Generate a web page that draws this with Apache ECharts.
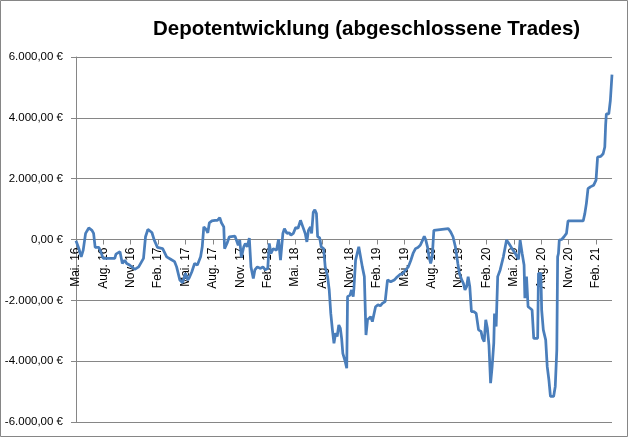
<!DOCTYPE html>
<html>
<head>
<meta charset="utf-8">
<script src="https://cdn.jsdelivr.net/npm/echarts@6/dist/echarts.min.js"></script>
<style>
html,body{margin:0;padding:0;background:#fff;}
#chart{width:628px;height:437px;}
</style>
</head>
<body>
<div id="chart"></div>
<script>
// Months since May 2016 (decimal) and depot value in EUR
const months = [0,0.18,0.35,0.57,0.79,1.05,1.40,1.75,1.93,2.10,2.50,2.71,2.98,4.25,4.38,4.82,4.99,5.08,5.34,5.56,5.87,6.44,6.87,7.40,7.62,7.88,8.32,8.58,8.93,9.50,9.94,10.38,10.81,11.03,11.38,11.69,12.00,12.26,12.43,12.70,13.00,13.31,13.66,13.84,14.01,14.27,14.45,14.62,14.89,15.24,15.50,15.76,15.94,16.20,16.29,16.55,16.81,17.43,17.60,17.78,17.95,18.13,18.39,18.56,18.78,19.00,19.18,19.44,19.61,19.88,20.23,20.49,20.75,21.02,21.19,21.37,21.63,21.98,22.20,22.42,22.59,22.68,22.85,23.12,23.38,23.56,23.82,24.08,24.34,24.61,24.87,25.13,25.31,25.48,25.70,25.83,26.01,26.18,26.36,26.49,26.71,26.88,27.15,27.32,27.58,27.76,27.93,28.11,28.28,28.46,28.63,28.81,28.98,29.12,29.25,29.51,29.68,29.77,30.04,30.21,30.39,30.47,30.65,31.00,31.17,31.39,31.61,31.79,31.96,32.14,32.31,32.49,32.66,32.84,33.10,33.36,33.58,33.89,34.06,34.15,34.33,34.50,34.68,34.89,35.11,35.33,35.55,35.77,35.99,36.43,36.69,36.95,37.22,37.48,37.74,38.00,38.18,38.35,38.53,38.70,38.88,39.05,39.23,39.40,40.81,41.07,41.33,41.59,41.86,42.03,42.29,42.47,42.64,42.82,42.99,43.17,43.35,43.61,43.87,44.13,44.40,44.57,44.75,44.92,45.10,45.27,45.45,45.62,45.80,45.88,46.06,46.23,46.50,46.85,47.20,47.46,47.81,48.16,48.51,48.69,48.91,49.12,49.21,49.39,49.56,49.78,50.00,50.18,50.61,50.70,50.96,51.05,51.23,51.49,51.66,51.84,52.01,52.36,52.54,52.71,52.80,52.89,52.98,53.24,53.50,53.77,53.94,55.60,55.78,55.95,56.13,56.39,56.74,57.01,57.18,57.53,57.79,57.97,58.06,58.14,58.41,58.58,58.76];
const values = [-40,-190,-330,-570,-350,200,380,300,200,-260,-260,-400,-620,-620,-480,-400,-350,-790,-680,-790,-840,-980,-900,-620,90,330,230,-20,-260,-300,-570,-650,-730,-900,-1330,-1420,-1110,-1330,-1250,-1060,-790,-840,-570,-240,415,330,220,550,610,630,630,720,550,415,-300,-130,90,110,60,-190,-20,-590,-240,-130,-240,50,-900,-1280,-1000,-900,-950,-900,-1000,-950,-130,-460,-300,-350,0,-680,-730,200,360,200,220,140,200,390,370,630,415,200,-80,300,415,200,900,980,850,90,60,-240,-300,-900,-1220,-1660,-2430,-2970,-3410,-3080,-3190,-2810,-2920,-3250,-3740,-4010,-4230,-1880,-1830,-1660,-1880,-1600,-680,-240,-190,-900,-1220,-3140,-2640,-2700,-2540,-2700,-2700,-2210,-2150,-2180,-2100,-2040,-1990,-1330,-1380,-1390,-1440,-1330,-1260,-1200,-1140,-1140,-1060,-900,-700,-460,-300,-260,-190,-20,110,-20,-240,-570,-790,-570,300,360,360,250,90,-240,-790,-1110,-1330,-1440,-1660,-1550,-1220,-1550,-2370,-2370,-2430,-2970,-3020,-3250,-3360,-2640,-2920,-3470,-4720,-4180,-3410,-2430,-2860,-1220,-1000,-570,-20,-130,-300,-460,-650,-20,-460,-840,-1930,-1220,-2210,-2260,-2320,-3250,-3250,-1110,-1110,-2320,-2970,-3300,-4180,-4610,-5160,-5160,-4830,-3630,-570,-460,-20,0,90,200,610,610,850,1180,1670,1730,1780,1950,2710,2730,2820,3040,3750,4130,4130,4570,5420];
const tickMonths = [0,3,6,9,12,15,18,21,24,27,30,33,36,39,42,45,48,51,54,57];
const tickLabels = ['Mai. 16','Aug. 16','Nov. 16','Feb. 17','Mai. 17','Aug. 17','Nov. 17','Feb. 18','Mai. 18','Aug. 18','Nov. 18','Feb. 19','Mai. 19','Aug. 19','Nov. 19','Feb. 20','Mai. 20','Aug. 20','Nov. 20','Feb. 21'];
const titleText = 'Depotentwicklung (abgeschlossene Trades)';

function euro(v){
  const neg = v < 0;
  const a = Math.abs(v).toFixed(2).split('.');
  const intPart = a[0].replace(/\B(?=(\d{3})+(?!\d))/g, '.');
  return (neg ? '-' : '') + intPart + ',' + a[1] + ' €';
}

const gridTop = 57, gridBottom = 15, chartH = 437;
const plotH = chartH - gridTop - gridBottom;

const chart = echarts.init(document.getElementById('chart'), null, {renderer:'canvas'});
chart.setOption({
  animation:false,
  backgroundColor:'#fff',
  textStyle:{fontFamily:'Liberation Sans'},
  title:{
    text:titleText,
    left:148, top:14,
    textStyle:{fontFamily:'Liberation Sans', fontWeight:'bold', fontSize:20.5, color:'#000'}
  },
  graphic:[{type:'rect', shape:{x:0.5,y:0.5,width:627,height:436}, style:{fill:null, stroke:'#868686', lineWidth:1}, silent:true}],
  grid:{left:76, right:16, top:gridTop, bottom:gridBottom, outerBoundsMode:'none', containLabel:false},
  xAxis:{
    type:'value', min:0, max:58.76, position:'bottom', offset:-plotH/2,
    axisLine:{onZero:false, lineStyle:{color:'#868686', width:1}},
    axisTick:{show:true, length:5, customValues:tickMonths, lineStyle:{color:'#868686'}},
    axisLabel:{
      customValues:tickMonths, rotate:90, margin:8, color:'#000', fontSize:12, fontFamily:'Liberation Sans',
      formatter:function(v){ const i = tickMonths.indexOf(Math.round(v)); return i>=0 ? tickLabels[i] : ''; }
    },
    splitLine:{show:false}
  },
  yAxis:{
    type:'value', min:-6000, max:6000, interval:2000,
    axisLine:{show:true, onZero:false, lineStyle:{color:'#868686', width:1}},
    axisTick:{show:true, length:5, lineStyle:{color:'#868686'}},
    axisLabel:{color:'#000', fontSize:11.5, fontFamily:'Liberation Sans', margin:13, formatter:euro},
    splitLine:{show:true, lineStyle:{color:'#868686', width:1}}
  },
  series:[{
    type:'line',
    data:months.map((m,i)=>[m, values[i]]),
    showSymbol:false,
    lineStyle:{color:'#4a7ebb', width:2.75},
    itemStyle:{color:'#4a7ebb'}
  }]
});
</script>
</body>
</html>
